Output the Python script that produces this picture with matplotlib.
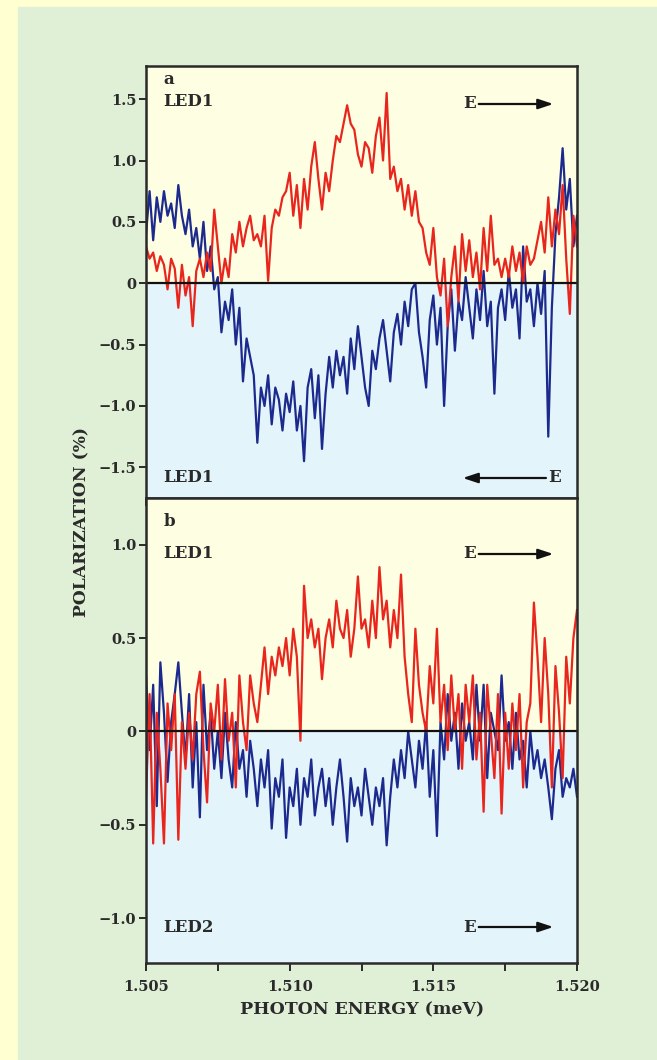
import numpy as np
import matplotlib
matplotlib.use("Agg")
import matplotlib.pyplot as plt

# ---------------- data ----------------
energy = np.linspace(1.505, 1.520, 121)  # photon energy grid

a_red = [0.30, 0.20, 0.25, 0.10, 0.22, 0.15, -0.05, 0.20, 0.12, -0.20,
         0.15, -0.10, 0.05, -0.35, 0.10, 0.20, 0.05, 0.25, 0.10, 0.60,
         0.30, 0.00, 0.20, 0.05, 0.40, 0.25, 0.50, 0.30, 0.45, 0.55,
         0.35, 0.40, 0.30, 0.55, 0.02, 0.45, 0.60, 0.55, 0.70, 0.75,
         0.90, 0.55, 0.80, 0.45, 0.85, 0.60, 0.95, 1.15, 0.85, 0.60,
         0.90, 0.75, 1.00, 1.20, 1.15, 1.30, 1.45, 1.30, 1.25, 1.05,
         0.95, 1.15, 1.10, 0.90, 1.20, 1.35, 1.00, 1.55, 0.85, 0.95,
         0.75, 0.85, 0.60, 0.80, 0.55, 0.75, 0.50, 0.45, 0.25, 0.15,
         0.45, 0.05, -0.10, 0.20, -0.35, 0.05, 0.30, -0.15, 0.40, 0.10,
         0.35, 0.05, 0.25, -0.05, 0.45, 0.10, 0.55, 0.15, 0.20, 0.05,
         0.20, 0.05, 0.30, 0.10, 0.25, 0.00, 0.30, 0.15, 0.20, 0.35,
         0.50, 0.25, 0.70, 0.30, 0.60, 0.40, 0.80, 0.20, -0.25, 0.55, 0.30]

a_blue = [0.40, 0.75, 0.35, 0.70, 0.50, 0.75, 0.55, 0.65, 0.45, 0.80,
          0.55, 0.40, 0.60, 0.30, 0.45, 0.20, 0.50, 0.10, 0.30, -0.05,
          0.05, -0.40, -0.15, -0.30, -0.05, -0.50, -0.20, -0.80, -0.45, -0.60,
          -0.75, -1.30, -0.85, -1.00, -0.75, -1.15, -0.85, -0.95, -1.20, -0.90,
          -1.05, -0.80, -1.20, -1.00, -1.45, -0.85, -0.70, -1.10, -0.75, -1.35,
          -0.90, -0.60, -0.85, -0.55, -0.75, -0.60, -0.90, -0.45, -0.70, -0.35,
          -0.60, -0.85, -1.00, -0.55, -0.70, -0.45, -0.30, -0.55, -0.80, -0.40,
          -0.25, -0.50, -0.15, -0.35, -0.05, 0.00, -0.40, -0.60, -0.85, -0.30,
          -0.10, -0.50, -0.20, -1.00, -0.35, -0.05, -0.55, -0.15, -0.30, 0.05,
          -0.20, -0.45, -0.05, -0.30, 0.10, -0.35, -0.15, -0.90, -0.20, -0.05,
          -0.30, 0.10, -0.20, -0.05, -0.45, 0.30, -0.15, -0.05, -0.35, 0.00,
          -0.25, 0.10, -1.25, -0.20, 0.40, 0.70, 1.10, 0.60, 0.85, 0.30, 0.55]

b_red = [-0.35, 0.20, -0.60, 0.10, -0.20, -0.60, 0.15, -0.10, 0.20, -0.58,
         0.05, -0.20, 0.10, -0.15, 0.20, 0.32, -0.10, -0.38, 0.15, 0.00,
         0.25, -0.15, 0.28, -0.05, 0.10, -0.30, 0.30, 0.05, -0.10, 0.30,
         0.15, 0.05, 0.25, 0.45, 0.20, 0.40, 0.30, 0.45, 0.35, 0.50,
         0.30, 0.55, 0.40, -0.05, 0.78, 0.50, 0.60, 0.45, 0.55, 0.28,
         0.50, 0.60, 0.45, 0.70, 0.55, 0.50, 0.65, 0.40, 0.55, 0.83,
         0.55, 0.60, 0.45, 0.70, 0.50, 0.88, 0.60, 0.70, 0.45, 0.65,
         0.50, 0.84, 0.40, 0.20, 0.05, 0.55, 0.25, 0.10, 0.00, 0.35,
         0.15, 0.55, 0.05, 0.25, -0.10, 0.30, 0.00, 0.20, -0.20, 0.25,
         0.05, 0.30, -0.15, 0.10, -0.43, 0.25, 0.00, -0.25, 0.20, -0.44,
         0.10, -0.20, 0.15, -0.10, 0.20, -0.30, 0.05, 0.15, 0.69, 0.40,
         0.05, 0.50, 0.20, -0.30, 0.35, 0.10, -0.25, 0.40, 0.15, 0.50, 0.65]

b_blue = [0.30, -0.10, 0.25, -0.40, 0.37, 0.10, -0.27, 0.05, 0.20, 0.37,
          0.10, -0.15, 0.20, -0.30, 0.05, -0.46, 0.25, -0.10, 0.10, -0.20,
          0.00, -0.25, 0.10, -0.15, -0.30, 0.05, -0.20, -0.10, -0.35, -0.05,
          -0.20, -0.40, -0.15, -0.30, -0.10, -0.52, -0.25, -0.35, -0.15, -0.57,
          -0.30, -0.40, -0.20, -0.50, -0.25, -0.35, -0.15, -0.45, -0.30, -0.20,
          -0.40, -0.25, -0.50, -0.30, -0.15, -0.35, -0.59, -0.25, -0.40, -0.30,
          -0.45, -0.20, -0.35, -0.50, -0.30, -0.40, -0.25, -0.61, -0.35, -0.15,
          -0.30, -0.10, -0.25, 0.00, -0.15, -0.30, -0.05, -0.20, 0.05, -0.35,
          -0.10, -0.56, 0.05, -0.15, 0.20, -0.05, 0.10, -0.20, 0.15, -0.05,
          0.05, -0.15, 0.25, -0.05, 0.25, -0.25, 0.10, 0.00, -0.10, 0.30,
          -0.05, 0.05, -0.20, 0.10, -0.15, -0.05, -0.30, 0.00, -0.20, -0.10,
          -0.25, -0.15, -0.30, -0.47, -0.20, -0.10, -0.35, -0.25, -0.30, -0.20, -0.35]

xticks = [1.505, 1.510, 1.515, 1.520]
xtick_labels = ["1.505", "1.510", "1.515", "1.520"]
a_yticks = [-1.5, -1.0, -0.5, 0, 0.5, 1.0, 1.5]
a_ylabels = ["\u22121.5", "\u22121.0", "\u22120.5", "0", "0.5", "1.0", "1.5"]
b_yticks = [-1.0, -0.5, 0, 0.5, 1.0]
b_ylabels = ["\u22121.0", "\u22120.5", "0", "0.5", "1.0"]

# ---------------- style ----------------
RED = "#E8261E"
BLUE = "#1C2A8E"
YEL = "#FEFEE2"
SKY = "#E3F5FB"
GREEN = "#E0F0D6"
BORDER = "#FFFFD2"
SPINE = "#2a2a2a"
FONT = "DejaVu Serif"

plt.rcParams["font.family"] = FONT
plt.rcParams["font.weight"] = "bold"

W, H = 657, 1060
fig = plt.figure(figsize=(W / 100, H / 100), dpi=100)
fig.patch.set_facecolor(BORDER)
fig.add_artist(plt.Rectangle((18 / W, 0), 1 - 18 / W, 1 - 7 / H,
                             transform=fig.transFigure, color=GREEN, zorder=0))

left = 146 / W
width = 431 / W
ax_a = fig.add_axes([left, 1 - 498 / H, width, 432 / H])
ax_b = fig.add_axes([left, 1 - 963 / H, width, 465 / H])

panels = [
    (ax_a, a_red, a_blue, (-1.75, 1.77), a_yticks, a_ylabels),
    (ax_b, b_red, b_blue, (-1.24, 1.25), b_yticks, b_ylabels),
]

for ax, red, blue, ylim, yt, yl in panels:
    ax.set_xlim(1.505, 1.520)
    ax.set_ylim(*ylim)
    ax.axhspan(0, ylim[1], color=YEL, zorder=0, lw=0)
    ax.axhspan(ylim[0], 0, color=SKY, zorder=0, lw=0)
    ax.plot(energy, blue, color=BLUE, lw=1.6, zorder=2)
    ax.plot(energy, red, color=RED, lw=1.6, zorder=2)
    ax.axhline(0, color="#111111", lw=1.6, zorder=3)
    ax.set_yticks(yt)
    ax.set_yticklabels(yl)
    ax.set_xticks(xticks)
    ax.set_xticks([1.5075, 1.5125, 1.5175], minor=True)
    for s in ax.spines.values():
        s.set_color(SPINE)
        s.set_linewidth(1.8)
        s.set_zorder(4)
    ax.tick_params(axis="both", which="both", direction="out", color=SPINE,
                   width=1.4, labelsize=10.5, labelcolor="#2a2a2a")
    ax.tick_params(axis="y", which="major", length=5, pad=2)
    ax.tick_params(axis="x", which="major", length=6, pad=6)
    ax.tick_params(axis="x", which="minor", length=6)

ax_a.set_xticklabels([])
ax_b.set_xticklabels(xtick_labels)

txt = dict(fontsize=12, fontweight="bold", color="#2a2a2a", family=FONT)

def e_arrow(ax, yfrac, direction):
    if direction > 0:
        ax.text(0.735, yfrac, "E", transform=ax.transAxes, va="center", ha="left", **txt)
        ax.annotate("", xy=(0.945, yfrac), xytext=(0.772, yfrac),
                    xycoords="axes fraction", textcoords="axes fraction",
                    arrowprops=dict(arrowstyle="-|>,head_length=0.9,head_width=0.3",
                                    color="#111111", lw=1.6, shrinkA=0, shrinkB=0))
    else:
        ax.text(0.932, yfrac, "E", transform=ax.transAxes, va="center", ha="left", **txt)
        ax.annotate("", xy=(0.735, yfrac), xytext=(0.928, yfrac),
                    xycoords="axes fraction", textcoords="axes fraction",
                    arrowprops=dict(arrowstyle="-|>,head_length=0.9,head_width=0.3",
                                    color="#111111", lw=1.6, shrinkA=0, shrinkB=0))

ax_a.text(0.04, 1 - 14 / 432, "a", transform=ax_a.transAxes, va="center", ha="left", **txt)
ax_a.text(0.04, 1 - 36 / 432, "LED1", transform=ax_a.transAxes, va="center", ha="left", **txt)
e_arrow(ax_a, 1 - 38 / 432, +1)
ax_a.text(0.04, 20 / 432, "LED1", transform=ax_a.transAxes, va="center", ha="left", **txt)
e_arrow(ax_a, 20 / 432, -1)

ax_b.text(0.04, 1 - 24 / 465, "b", transform=ax_b.transAxes, va="center", ha="left", **txt)
ax_b.text(0.04, 1 - 56 / 465, "LED1", transform=ax_b.transAxes, va="center", ha="left", **txt)
e_arrow(ax_b, 1 - 56 / 465, +1)
ax_b.text(0.04, 36 / 465, "LED2", transform=ax_b.transAxes, va="center", ha="left", **txt)
e_arrow(ax_b, 36 / 465, +1)

fig.text(362 / W, 1 - 1010 / H, "PHOTON ENERGY (meV)", ha="center", va="center",
         fontsize=12.5, fontweight="bold", color="#2a2a2a", family=FONT)
fig.text(82 / W, 1 - 522 / H, "POLARIZATION (%)", ha="center", va="center",
         rotation=90, fontsize=12.3, fontweight="bold", color="#2a2a2a", family=FONT)

fig.savefig("out.png", dpi=100, facecolor=fig.get_facecolor())
